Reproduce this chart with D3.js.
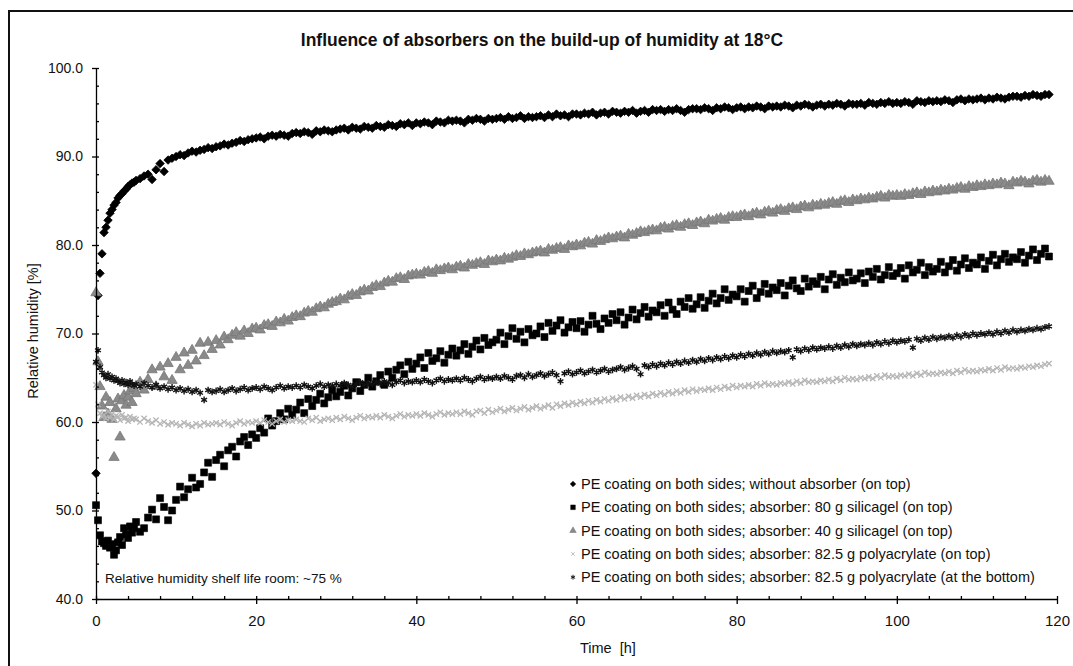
<!DOCTYPE html>
<html>
<head>
<meta charset="utf-8">
<script src="https://cdn.jsdelivr.net/npm/d3@7"></script>
<style>
  body { margin: 0; background: #fff; }
  svg { display: block; font-family: "Liberation Sans", Arial, sans-serif; }
</style>
</head>
<body>
<svg id="chart"></svg>
<script>

        // logger times: every 15 min for the first 5 h, then every 30 min
        var hours = d3.range(0, 5, 0.25).concat(d3.range(5, 119.5, 0.5));

        // relative humidity [%], one value per entry of hours
        var noAbsorber = [
            54.2, 74.3, 76.8, 79.0, 81.4, 82.0, 82.8, 83.6, 84.0, 84.5, 84.8, 85.3, 85.6, 85.8, 86.1, 86.3, 86.6, 86.8, 87.0, 87.1,
            87.3, 87.5, 87.8, 88.0, 87.4, 88.5, 89.2, 88.3, 89.6, 89.8,
            90.0, 90.2, 90.1, 90.4, 90.6, 90.5, 90.7, 90.8, 91.0, 90.9,
            91.1, 91.2, 91.4, 91.3, 91.5, 91.6, 91.8, 91.7, 91.9, 92.0,
            92.1, 92.2, 92.0, 92.3, 92.4, 92.3, 92.5, 92.4, 92.3, 92.6,
            92.7, 92.6, 92.8, 92.7, 92.5, 92.9, 92.8, 93.0, 92.9, 92.8,
            93.0, 93.1, 93.2, 93.0, 93.3, 93.2, 93.1, 93.4, 93.3, 93.2,
            93.5, 93.4, 93.3, 93.6, 93.5, 93.4, 93.7, 93.6, 93.8, 93.5,
            93.8, 93.7, 93.9, 93.8, 93.6, 94.0, 93.9, 93.8, 94.1, 94.0,
            94.1, 94.0, 93.8, 94.2, 94.1, 94.3, 94.2, 94.0, 94.3, 94.2,
            94.3, 94.4, 94.2, 94.5, 94.3, 94.4, 94.6, 94.3, 94.5, 94.4,
            94.5, 94.6, 94.4, 94.7, 94.5, 94.8, 94.6, 94.7, 94.5, 94.8,
            94.8, 94.7, 94.9, 94.8, 95.0, 94.7, 94.9, 95.0, 94.8, 95.1,
            95.0, 94.9, 95.1, 95.0, 95.2, 94.9, 95.1, 95.2, 95.0, 95.3,
            95.2, 95.3, 95.1, 95.3, 95.2, 95.4, 95.2, 95.0, 95.3, 95.4,
            95.4, 95.3, 95.5, 95.4, 95.2, 95.5, 95.4, 95.6, 95.5, 95.3,
            95.5, 95.6, 95.4, 95.6, 95.5, 95.7, 95.6, 95.4, 95.7, 95.6,
            95.7, 95.6, 95.8, 95.7, 95.5, 95.8, 95.7, 95.9, 95.8, 95.6,
            95.8, 95.9, 95.7, 95.9, 95.8, 96.0, 95.9, 95.7, 96.0, 95.9,
            95.9, 96.0, 95.8, 96.1, 96.0, 95.9, 96.1, 96.0, 96.2, 96.0,
            96.1, 96.0, 96.2, 96.1, 95.9, 96.3, 96.2, 96.1, 96.3, 96.2,
            96.3, 96.2, 96.4, 96.3, 96.1, 96.4, 96.5, 96.3, 96.5, 96.4,
            96.5, 96.6, 96.4, 96.6, 96.5, 96.7, 96.6, 96.5, 96.7, 96.8,
            96.8, 96.7, 96.9, 96.8, 97.0, 96.9, 96.8, 97.0, 97.0
        ];

        var silica80 = [
            50.6, 48.9, 47.2, 46.5, 46.3, 46.0, 46.6, 45.8, 46.2, 45.0, 45.5, 46.4, 47.0, 46.1, 48.0, 47.3, 46.9, 48.2, 47.5, 48.0,
            48.7, 47.6, 48.0, 49.2, 50.1, 49.0, 51.4, 50.4, 48.9, 50.0,
            51.2, 52.7, 51.5, 52.4, 53.7, 52.6, 53.0, 54.3, 55.4, 53.8,
            55.7, 56.3, 55.0, 56.8, 57.2, 56.1, 57.8, 58.3, 57.4, 58.6,
            58.2, 59.3, 58.8, 60.4, 59.6, 60.1, 61.0, 60.3, 61.5, 60.8,
            61.4, 62.2, 61.0, 62.6, 61.8, 62.5, 63.2, 62.1, 62.8, 63.6,
            62.9, 63.4, 64.1, 63.0, 63.8, 64.5, 63.5, 64.2, 65.0, 64.0,
            64.6, 65.3, 64.2, 65.7, 65.0, 65.9, 66.4, 65.4, 66.8, 66.0,
            66.6, 67.3, 66.1, 67.8, 66.9, 67.2, 68.0, 66.7, 67.6, 68.3,
            67.5, 68.1, 68.8, 67.7, 68.5, 69.2, 68.2, 69.5, 68.7, 69.0,
            69.3, 70.1, 68.8, 69.7, 70.6, 69.4, 70.2, 69.0, 70.5, 69.8,
            70.0, 70.8, 69.6, 71.2, 70.3, 70.9, 71.5, 70.1, 70.7, 71.3,
            70.6, 71.4, 70.2, 71.0, 72.0, 71.1, 70.5, 71.7, 71.2, 72.2,
            71.5, 72.4, 71.0, 71.8, 72.7, 71.6, 72.3, 73.0, 71.9, 72.6,
            72.4, 73.2, 72.0, 73.5, 72.7, 72.2, 73.6, 73.0, 74.0, 72.8,
            73.3, 74.1, 72.9, 73.7, 74.5, 73.4, 74.0, 75.0, 73.8, 74.4,
            74.2, 75.0, 73.6, 74.8, 75.4, 74.0, 74.7, 75.6, 74.5, 75.2,
            74.9, 75.7, 74.3, 75.4, 76.0, 75.1, 74.8, 76.2, 75.3, 75.9,
            75.6, 76.4, 75.0, 76.1, 76.7, 75.5, 76.3, 75.8, 76.9, 76.0,
            76.2, 76.8, 75.7, 77.0, 76.4, 77.3, 76.1, 76.6, 77.5, 76.5,
            76.8, 77.4, 76.2, 77.7, 76.9, 77.2, 78.0, 76.6, 77.5, 77.0,
            77.3, 78.1, 76.9, 77.6, 78.3, 77.1, 77.8, 78.5, 77.4, 78.0,
            77.8, 78.6, 77.3, 78.2, 78.9, 77.7, 78.4, 79.0, 78.1, 78.6,
            78.4, 79.2, 78.0, 78.8, 79.5, 78.3, 79.0, 79.6, 78.7
        ];

        var silica40 = [
            74.6, 66.8, 64.0, 61.8, 60.5, 62.8, 60.9, 62.2, 60.3, 56.0, 61.5, 62.6, 58.3, 62.4, 63.0, 61.9, 62.8, 63.5, 62.2, 63.8,
            63.2, 64.5, 63.6, 64.8, 65.9, 64.0, 66.2, 65.1, 66.6, 64.7,
            67.3, 65.9, 67.8, 66.4, 68.1, 66.9, 68.9, 67.5, 69.0, 68.2,
            69.2, 68.7, 69.6, 69.3, 69.8, 70.1, 69.7, 70.3, 70.0, 70.5,
            70.6, 70.4, 70.9, 71.0, 70.8, 71.3, 71.2, 71.6, 71.4, 71.8,
            72.0, 71.9, 72.3, 72.5, 72.4, 72.8, 73.0, 72.9, 73.3, 73.5,
            73.6, 73.9, 73.8, 74.2, 74.4, 74.3, 74.7, 74.9, 74.8, 75.2,
            75.4, 75.3, 75.7, 75.9, 75.8, 76.2, 76.3, 76.1, 76.5, 76.6,
            76.7, 76.6, 76.9, 77.0, 76.8, 77.2, 77.1, 77.3, 77.4, 77.2,
            77.5, 77.6, 77.4, 77.8, 77.7, 77.9, 78.0, 77.8, 78.2, 78.1,
            78.3, 78.2, 78.5, 78.4, 78.6, 78.8, 78.7, 79.0, 78.9, 79.1,
            79.2, 79.3, 79.1, 79.5, 79.4, 79.6, 79.7, 79.5, 79.9, 79.8,
            80.0, 79.9, 80.2, 80.3, 80.1, 80.5, 80.4, 80.6, 80.8, 80.7,
            80.9, 81.0, 80.8, 81.2, 81.1, 81.3, 81.5, 81.4, 81.6, 81.7,
            81.6, 81.9, 82.0, 81.8, 82.1, 82.2, 82.0, 82.3, 82.4, 82.2,
            82.5, 82.6, 82.4, 82.8, 82.7, 82.9, 83.0, 82.8, 83.1, 83.2,
            83.1, 83.3, 83.4, 83.2, 83.5, 83.6, 83.4, 83.7, 83.8, 83.6,
            83.9, 84.0, 83.8, 84.1, 84.2, 84.0, 84.3, 84.4, 84.2, 84.5,
            84.4, 84.6, 84.5, 84.7, 84.8, 84.6, 84.9, 85.0, 84.8, 85.1,
            85.0, 85.2, 85.1, 85.3, 85.2, 85.4, 85.5, 85.3, 85.6, 85.5,
            85.6, 85.5, 85.7, 85.6, 85.8, 85.9, 85.7, 86.0, 85.9, 86.1,
            86.0, 86.2, 86.1, 86.3, 86.2, 86.4, 86.5, 86.3, 86.6, 86.5,
            86.7, 86.6, 86.8, 86.7, 86.9, 86.8, 87.0, 86.9, 86.7, 87.1,
            87.0, 87.2, 87.1, 86.9, 87.2, 87.3, 87.1, 87.3, 87.2
        ];

        var polyTop = [
            64.2, 62.0, 61.0, 60.6, 60.8, 60.4, 61.2, 60.5, 60.9, 60.3, 60.7, 60.6, 60.2, 60.8, 60.4, 60.5, 60.1, 60.6, 60.3, 60.4,
            60.3, 60.0, 60.4, 60.1, 59.9, 60.2, 59.8, 60.0, 59.7, 59.9,
            59.8, 59.6, 59.9, 59.7, 59.5, 59.8, 59.6, 59.9, 59.7, 59.8,
            59.9, 59.7, 60.0, 59.8, 59.6, 59.9, 60.1, 59.8, 60.0, 59.9,
            60.1, 59.9, 60.2, 60.0, 59.8, 60.1, 60.3, 60.0, 60.2, 60.1,
            60.3, 60.1, 60.0, 60.4, 60.2, 60.5, 60.1, 60.3, 60.4, 60.2,
            60.5, 60.3, 60.6, 60.4, 60.2, 60.5, 60.7, 60.4, 60.6, 60.5,
            60.7, 60.5, 60.8, 60.6, 60.4, 60.7, 60.9, 60.6, 60.8, 60.7,
            60.9, 60.7, 61.0, 60.8, 60.6, 60.9, 61.1, 60.8, 61.0, 60.9,
            61.1, 60.9, 61.2, 61.0, 60.8, 61.2, 61.3, 61.0, 61.4, 61.1,
            61.3, 61.5, 61.2, 61.4, 61.6, 61.3, 61.5, 61.7, 61.4, 61.6,
            61.8, 61.5, 61.7, 61.9, 61.6, 62.0, 61.8, 62.1, 61.9, 62.2,
            62.0, 62.3, 62.1, 62.4, 62.2, 62.5, 62.3, 62.6, 62.4, 62.7,
            62.5, 62.8, 62.6, 62.9, 62.7, 63.0, 62.8, 63.1, 62.9, 63.2,
            63.0, 63.3, 63.1, 63.4, 63.2, 63.5, 63.3, 63.6, 63.4, 63.7,
            63.5, 63.7, 63.6, 63.8, 63.6, 63.9, 63.7, 64.0, 63.8, 64.1,
            63.9, 64.1, 64.0, 64.2, 64.0, 64.3, 64.1, 64.4, 64.2, 64.3,
            64.2, 64.4, 64.3, 64.5, 64.3, 64.6, 64.4, 64.7, 64.5, 64.6,
            64.5, 64.7, 64.6, 64.8, 64.6, 64.9, 64.7, 65.0, 64.8, 64.9,
            64.8, 65.0, 64.9, 65.1, 64.9, 65.2, 65.0, 65.3, 65.1, 65.2,
            65.1, 65.3, 65.2, 65.4, 65.2, 65.5, 65.3, 65.6, 65.4, 65.5,
            65.4, 65.6, 65.5, 65.7, 65.5, 65.8, 65.6, 65.9, 65.7, 65.8,
            65.7, 65.9, 65.8, 66.0, 65.8, 66.1, 65.9, 66.2, 66.0, 66.1,
            66.0, 66.2, 66.1, 66.3, 66.2, 66.4, 66.3, 66.5, 66.6
        ];

        var polyBottom = [
            66.8, 68.1, 66.2, 65.6, 65.3, 65.0, 65.4, 64.9, 65.1, 64.7, 64.9, 64.6, 64.4, 64.7, 64.3, 64.5, 64.2, 64.6, 64.3, 64.1,
            64.3, 64.0, 64.4, 64.1, 63.9, 64.2, 63.8, 64.0, 63.7, 63.9,
            63.6, 63.8, 63.5, 63.7, 63.4, 63.6, 63.3, 62.5, 63.6, 63.4,
            63.5, 63.7, 63.4, 63.6, 63.8, 63.5, 63.7, 63.9, 63.6, 63.8,
            63.9, 63.7, 64.0, 63.8, 63.6, 63.9, 64.1, 63.8, 64.0, 63.9,
            64.1, 63.9, 64.2, 64.0, 63.8, 64.1, 64.3, 64.0, 64.2, 64.1,
            64.3, 64.1, 64.4, 64.2, 64.0, 64.3, 64.5, 64.2, 64.4, 64.3,
            64.5, 64.3, 64.6, 64.4, 64.2, 64.5, 64.7, 64.4, 64.6, 64.5,
            64.7, 64.5, 64.8, 64.6, 64.4, 64.7, 64.9, 64.6, 64.8, 64.7,
            64.9, 64.7, 65.0, 64.8, 64.6, 64.9, 65.1, 64.8, 65.0, 64.9,
            65.1, 64.9, 65.2, 65.0, 64.8, 65.2, 65.3, 65.0, 65.4, 65.1,
            65.3, 65.5, 65.2, 65.4, 65.6, 65.3, 64.6, 65.5, 65.7, 65.4,
            65.6, 65.8, 65.5, 65.7, 65.9, 65.6, 65.8, 66.0, 65.7, 65.9,
            66.0, 66.2, 65.9, 66.1, 66.3, 66.0, 65.4, 66.4, 66.2, 66.5,
            66.3, 66.6, 66.4, 66.7, 66.5, 66.8, 66.6, 66.9, 66.7, 67.0,
            66.8, 67.1, 66.9, 67.2, 67.0, 67.3, 67.1, 67.4, 67.2, 67.5,
            67.3, 67.6, 67.4, 67.7, 67.5, 67.8, 67.6, 67.9, 67.7, 68.0,
            67.8, 68.0, 67.9, 68.1, 67.3, 68.2, 68.0, 68.3, 68.1, 68.4,
            68.2, 68.4, 68.3, 68.5, 68.3, 68.6, 68.4, 68.7, 68.5, 68.8,
            68.6, 68.8, 68.7, 68.9, 68.7, 69.0, 68.8, 69.1, 68.9, 69.2,
            69.0, 69.2, 69.1, 69.3, 68.4, 69.4, 69.2, 69.5, 69.3, 69.6,
            69.4, 69.6, 69.5, 69.7, 69.5, 69.8, 69.6, 69.9, 69.7, 70.0,
            69.8, 70.0, 69.9, 70.1, 69.9, 70.2, 70.0, 70.3, 70.1, 70.4,
            70.2, 70.4, 70.3, 70.5, 70.4, 70.6, 70.5, 70.7, 70.8
        ];

        var seriesNames = [
            "PE coating on both sides; without absorber (on top)",
            "PE coating on both sides; absorber: 80 g silicagel (on top)",
            "PE coating on both sides; absorber: 40 g silicagel (on top)",
            "PE coating on both sides; absorber: 82.5 g polyacrylate (on top)",
            "PE coating on both sides; absorber: 82.5 g polyacrylate (at the bottom)"
        ];

        var xTicks = [0, 20, 40, 60, 80, 100, 120];
        var yTicks = [40, 50, 60, 70, 80, 90, 100];


        // small diamond, same width as height (d3's own one is taller)
        var symbolRhomb = {
            draw: function(ctx, size) {
                var r = Math.sqrt(size) / 2;
                ctx.moveTo(0, -r);
                ctx.lineTo(r, 0);
                ctx.lineTo(0, r);
                ctx.lineTo(-r, 0);
                ctx.closePath();
            }
        };

        // marker look for each series, in legend order
        var series = [
            { name: seriesNames[0], values: noAbsorber, type: symbolRhomb, size: 72, legendSize: 30, fill: "#000", stroke: "#000", sw: 0.8 },
            { name: seriesNames[1], values: silica80, type: d3.symbolSquare, size: 49, legendSize: 22, fill: "#000", stroke: "#000", sw: 0.6 },
            { name: seriesNames[2], values: silica40, type: d3.symbolTriangle, size: 46, legendSize: 18, fill: "#8a8a8a", stroke: "#777", sw: 0.8 },
            { name: seriesNames[3], values: polyTop, type: d3.symbolTimes, size: 20, legendSize: 10, fill: "none", stroke: "#b5b5b5", sw: 1.3 },
            { name: seriesNames[4], values: polyBottom, type: d3.symbolAsterisk, size: 32, legendSize: 16, fill: "none", stroke: "#111", sw: 1.4 }
        ];

        var width = 1073,
            height = 666;

        var chart = d3.select('#chart')
            .attr('width', width)
            .attr('height', height);

        chart.append('rect')
            .attr('width', width)
            .attr('height', height)
            .attr('fill', '#fff');

        // frame (only the left and top edges are in the picture)
        chart.append('path')
            .attr('d', 'M9,666V11H1073')
            .attr('fill', 'none')
            .attr('stroke', '#111')
            .attr('stroke-width', 2);

        var xScale = d3.scaleLinear()
            .domain([0, 120])
            .range([96, 1057]);

        var yScale = d3.scaleLinear()
            .domain([40, 100])
            .range([599, 68]);

        // series markers
        series.forEach(function(s) {
            var pts = s.values.map(function(v, i) {
                return { t: hours[i], v: v };
            }).filter(function(d) {
                return d.t !== undefined;
            });

            chart.append('g')
                .selectAll('path')
                .data(pts)
                .enter().append('path')
                .attr('transform', function(d) {
                    return 'translate(' + xScale(d.t) + ',' + yScale(d.v) + ')';
                })
                .attr('d', d3.symbol().type(s.type).size(s.size))
                .attr('fill', s.fill)
                .attr('stroke', s.stroke)
                .attr('stroke-width', s.sw);
        });

        // x axis: labelled ticks every 20 h, small ticks every 4 h
        var xAxis = chart.append('g')
            .attr('transform', 'translate(0,599)')
            .call(d3.axisBottom(xScale)
                .tickValues(xTicks)
                .tickFormat(d3.format('d'))
                .tickSizeInner(5)
                .tickSizeOuter(0)
                .tickPadding(11));

        chart.append('g')
            .attr('transform', 'translate(0,599)')
            .call(d3.axisTop(xScale)
                .tickValues(d3.range(0, 121, 4))
                .tickFormat('')
                .tickSize(3))
            .select('.domain').remove();

        // y axis: labelled ticks every 10 %, small ticks every 2 %
        var yAxis = chart.append('g')
            .attr('transform', 'translate(96,0)')
            .call(d3.axisLeft(yScale)
                .tickValues(yTicks)
                .tickFormat(d3.format('.1f'))
                .tickSizeInner(4)
                .tickSizeOuter(0)
                .tickPadding(9));

        chart.append('g')
            .attr('transform', 'translate(96,0)')
            .call(d3.axisRight(yScale)
                .tickValues(d3.range(40, 101, 2))
                .tickFormat('')
                .tickSize(3))
            .select('.domain').remove();

        chart.selectAll('.domain, .tick line')
            .attr('stroke', '#000')
            .attr('stroke-width', 1.3);

        xAxis.attr('font-family', null).attr('font-size', 15);
        yAxis.attr('font-family', null).attr('font-size', 14);
        chart.selectAll('.tick text').attr('fill', '#111');

        // titles
        chart.append('text')
            .attr('x', 542)
            .attr('y', 46)
            .attr('text-anchor', 'middle')
            .attr('font-size', 17.5)
            .attr('font-weight', 'bold')
            .attr('fill', '#111')
            .text("Influence of absorbers on the build-up of humidity at 18°C");

        chart.append('text')
            .attr('transform', 'translate(38,331) rotate(-90)')
            .attr('text-anchor', 'middle')
            .attr('font-size', 14.5)
            .attr('fill', '#111')
            .text("Relative humidity  [%]");

        chart.append('text')
            .attr('x', 580)
            .attr('y', 653)
            .attr('font-size', 14.5)
            .attr('fill', '#111')
            .attr('xml:space', 'preserve')
            .text("Time  [h]");

        chart.append('text')
            .attr('x', 105)
            .attr('y', 583)
            .attr('font-size', 13.5)
            .attr('fill', '#111')
            .text("Relative humidity shelf life room: ~75 %");

        // legend
        var legend = chart.append('g')
            .attr('transform', 'translate(573,484)');

        var rows = legend.selectAll('g')
            .data(series)
            .enter().append('g')
            .attr('transform', function(d, i) {
                return 'translate(0,' + (i * 23.3) + ')';
            });

        rows.append('path')
            .attr('d', function(d) {
                return d3.symbol().type(d.type).size(d.legendSize)();
            })
            .attr('fill', function(d) { return d.fill; })
            .attr('stroke', function(d) { return d.stroke; })
            .attr('stroke-width', function(d) { return d.sw * 0.7; });

        rows.append('text')
            .attr('x', 8)
            .attr('y', 5)
            .attr('font-size', 14.5)
            .attr('fill', '#111')
            .text(function(d) { return d.name; });

</script>
</body>
</html>
